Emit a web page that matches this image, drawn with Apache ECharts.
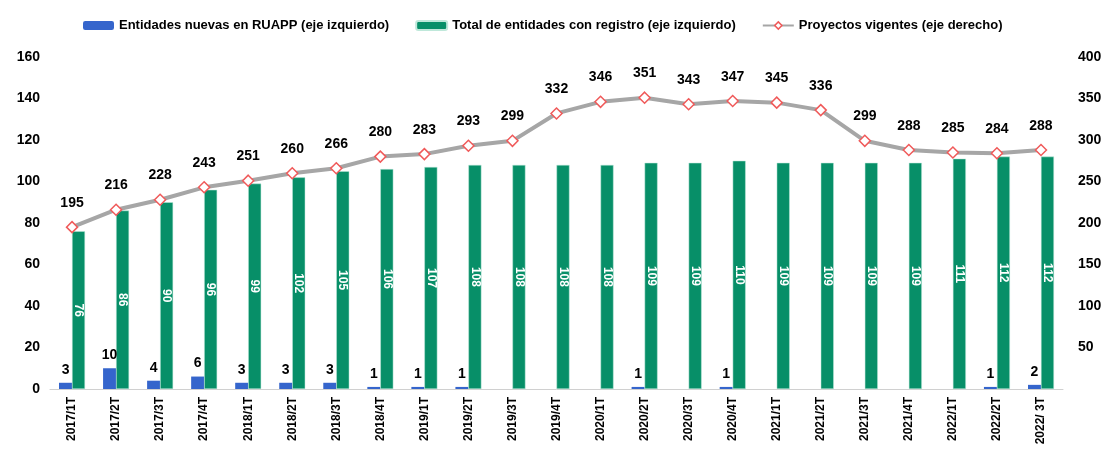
<!DOCTYPE html>
<html>
<head>
<meta charset="utf-8">
<script src="https://cdn.jsdelivr.net/npm/echarts@6/dist/echarts.min.js"></script>
<style>
  html, body { margin: 0; padding: 0; background: #fff; }
  #chart { width: 1107px; height: 456px; }
</style>
</head>
<body>
<div id="chart"></div>
<script>
  const categories = ['2017/1T', '2017/2T', '2017/3T', '2017/4T', '2018/1T', '2018/2T', '2018/3T', '2018/4T',
    '2019/1T', '2019/2T', '2019/3T', '2019/4T', '2020/1T', '2020/2T', '2020/3T', '2020/4T',
    '2021/1T', '2021/2T', '2021/3T', '2021/4T', '2022/1T', '2022/2T', '2022/ 3T'];
  const nuevas = [3, 10, 4, 6, 3, 3, 3, 1, 1, 1, 0, 0, 0, 1, 0, 1, 0, 0, 0, 0, 0, 1, 2];
  const totalEntidades = [76, 86, 90, 96, 99, 102, 105, 106, 107, 108, 108, 108, 108, 109, 109, 110, 109, 109, 109, 109, 111, 112, 112];
  const proyectos = [195, 216, 228, 243, 251, 260, 266, 280, 283, 293, 299, 332, 346, 351, 343, 347, 345, 336, 299, 288, 285, 284, 288];

  const font = 'Liberation Sans';
  const chart = echarts.init(document.getElementById('chart'));
  chart.setOption({
    animation: false,
    textStyle: { fontFamily: font },
    legend: {
      top: 14,
      left: 78,
      itemWidth: 31,
      itemHeight: 9,
      itemGap: 26,
      textStyle: { fontSize: 13, fontWeight: 'bold', color: '#000', fontFamily: font },
      data: [
        { name: 'Entidades nuevas en RUAPP (eje izquierdo)' },
        { name: 'Total de entidades con registro (eje izquierdo)' },
        { name: 'Proyectos vigentes (eje derecho)', itemStyle: { color: '#fff', borderColor: '#f05a5a', borderWidth: 1.5 } }
      ]
    },
    grid: { left: 50, right: 44, top: 57, bottom: 67 },
    xAxis: {
      type: 'category',
      data: categories,
      axisLine: { lineStyle: { color: '#d0d0d0' } },
      axisTick: { show: false },
      axisLabel: { rotate: 90, fontWeight: 'bold', fontSize: 12, color: '#000', margin: 8 }
    },
    yAxis: [
      {
        type: 'value', min: 0, max: 160, interval: 20,
        splitLine: { show: false },
        axisLabel: { fontWeight: 'bold', fontSize: 14, color: '#000', margin: 10 }
      },
      {
        type: 'value', min: 0, max: 400, interval: 50,
        splitLine: { show: false },
        axisLabel: {
          fontWeight: 'bold', fontSize: 14, color: '#000', margin: 15,
          formatter: v => v === 0 ? '' : v
        }
      }
    ],
    series: [
      {
        name: 'Entidades nuevas en RUAPP (eje izquierdo)',
        type: 'bar',
        data: nuevas,
        barWidth: 13,
        barGap: '0%',
        itemStyle: { color: '#3565cc' },
        label: {
          show: true, position: 'top', distance: 6,
          fontWeight: 'bold', fontSize: 14, color: '#000',
          formatter: p => p.value === 0 ? '' : p.value
        }
      },
      {
        name: 'Total de entidades con registro (eje izquierdo)',
        type: 'bar',
        data: totalEntidades,
        barWidth: 13,
        itemStyle: { color: '#078f68', borderColor: '#bfe8da', borderWidth: 0.5 },
        label: {
          show: true, position: 'inside', rotate: -90,
          fontWeight: 'bold', fontSize: 12, color: '#fff'
        }
      },
      {
        name: 'Proyectos vigentes (eje derecho)',
        type: 'line',
        yAxisIndex: 1,
        data: proyectos,
        symbol: 'diamond',
        symbolSize: 11,
        lineStyle: { color: '#a6a6a6', width: 4 },
        itemStyle: { color: '#fff', borderColor: '#f05a5a', borderWidth: 1.5 },
        label: {
          show: true, position: 'top', distance: 11,
          fontWeight: 'bold', fontSize: 14, color: '#000'
        },
        z: 5
      }
    ]
  });
</script>
</body>
</html>
